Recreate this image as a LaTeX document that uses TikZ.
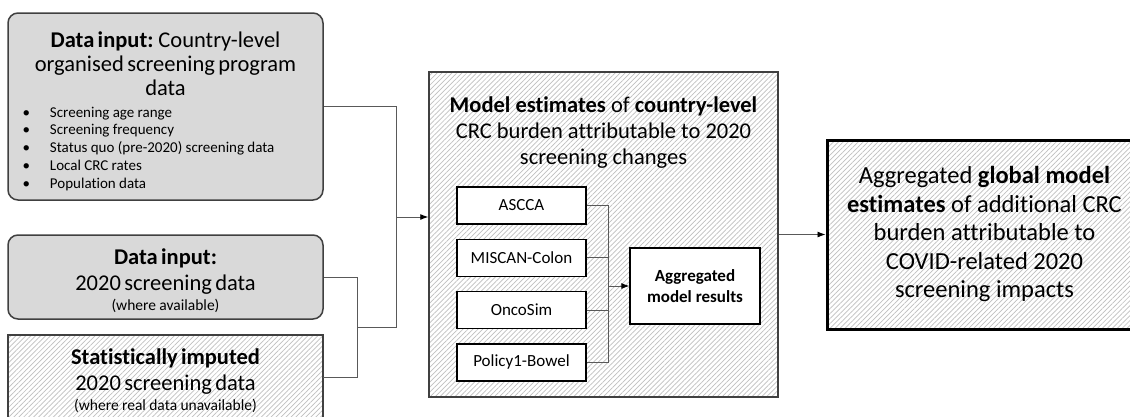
\documentclass[tikz,border=0pt]{standalone}
\usepackage{fontspec}
\setmainfont{Carlito}[Ligatures=CommonOff]
\usetikzlibrary{arrows.meta,patterns.meta}
\newcommand{\bulletline}[1]{\makebox[299pt][l]{\hspace*{6.5pt}\makebox[27.5pt][l]{\textbullet}#1}}
\tikzset{
  leftbox/.style={draw=black!75, line width=1.5pt, minimum width=315pt, text width=299pt,
    inner xsep=8pt, align=center},
  hatchbox/.style={preaction={fill=white}, pattern={Lines[angle=45,distance=3.5pt,line width=.7pt]},
    pattern color=black!25},
  inputbox/.style={leftbox, fill=black!15, rounded corners=10pt},
  imputedbox/.style={leftbox, hatchbox, sharp corners},
  modelbox/.style={draw=black, line width=1.3pt, fill=white, minimum width=129pt,
    minimum height=37pt, font=\fontsize{17}{20}\selectfont},
  link/.style={draw=black!65, line width=.9pt},
  flow/.style={link, -{Latex[length=8pt,width=6pt,color=black]}}
}

\begin{document}
\begin{tikzpicture}[x=1pt,y=-1pt]
   \useasboundingbox (0,0) rectangle (1130,416);
   \clip (0,0) rectangle (1130,416);

   \node[inputbox, minimum height=187pt] (country) at (165.5,106.5) {%
     {\fontsize{22.5}{24}\selectfont\rule{0pt}{25pt}\textbf{Data input:} Country-level\\ organised screening program\\ data\par}
     \vspace{4pt}
     {\fontsize{15}{17.8}\selectfont
     \bulletline{Screening age range}\\
     \bulletline{Screening frequency}\\
     \bulletline{Status quo (pre-2020) screening data}\\
     \bulletline{Local CRC rates}\\
     \bulletline{Population data}\par}};
   \node[inputbox, minimum height=84pt] (screening) at (165.5,277) {%
     {\fontsize{22.5}{26}\selectfont\rule{0pt}{24pt}\textbf{Data input:}\\ 2020 screening data\par}
     {\fontsize{15.5}{20}\selectfont (where available)\par}};
   \node[imputedbox, minimum height=84pt] (imputed) at (165.5,377) {%
     {\fontsize{22.5}{26}\selectfont\rule{0pt}{24pt}\textbf{Statistically imputed}\\ 2020 screening data\par}
     {\fontsize{15.5}{20}\selectfont (where real data unavailable)\par}};

   \node[hatchbox, draw=black!75, line width=1.5pt, minimum width=349pt, minimum height=325pt]
     (models) at (603.5,234.5) {};
   \node[align=center, font=\fontsize{22.5}{26}\selectfont] (modeltitle) at (603.5,132.5)
     {\textbf{Model estimates} of \textbf{country-level}\\ CRC burden attributable to 2020\\ screening changes};
   \foreach \name/\txt [count=\i from 0] in
     {ascca/ASCCA, miscan/MISCAN-Colon, oncosim/OncoSim, policy/Policy1-Bowel}
     \node[modelbox] (\name) at (521.5,{205.5+52.3*\i}) {\txt};
   \node[modelbox, minimum width=130pt, minimum height=76pt, align=center,
     font=\fontsize{17}{21}\selectfont\bfseries] (aggregate) at (695,286) {Aggregated\\ model results};

   \node[hatchbox, draw=black, line width=3pt, minimum width=315pt, minimum height=189pt,
     align=center, font=\fontsize{24.5}{28.5}\selectfont] (globalest) at (984.5,234.5)
     {Aggregated \textbf{global model}\\ \textbf{estimates} of additional CRC\\ burden attributable to\\
      COVID-related 2020\\ screening impacts};

   \coordinate (fork) at (357,327);
   \coordinate (merge) at (396,217);
   \coordinate (join) at (608,286);
   \draw[link] (screening) -| (fork);
   \draw[link] (imputed) -| (fork);
   \draw[link] (country) -| (merge);
   \draw[link] (fork) -| (merge);
   \draw[flow] (merge) -- (merge -| models.west);
   \foreach \name in {ascca,miscan,oncosim,policy}
     \draw[link] (\name) -| (join);
   \draw[flow] (join) -- (aggregate);
   \draw[flow] (models) -- (globalest);
\end{tikzpicture}
\end{document}
